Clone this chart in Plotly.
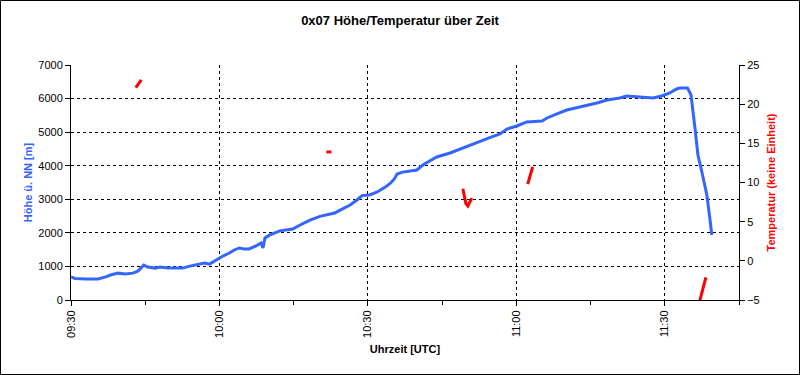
import plotly.graph_objects as go

# --- data ---
alt_time = ["09:30:00", "09:30:48", "09:33:00", "09:35:30", "09:37:00", "09:38:00", "09:39:30",
            "09:41:00", "09:42:30", "09:43:30", "09:44:42", "09:45:30", "09:47:00", "09:48:00",
            "09:49:36", "09:52:36", "09:54:00", "09:56:00", "09:57:00", "09:58:00", "09:59:00",
            "10:00:42", "10:02:00", "10:03:00", "10:04:00", "10:05:00", "10:06:00", "10:07:24",
            "10:08:24", "10:08:48", "10:09:12", "10:10:12", "10:12:12", "10:14:48", "10:16:18",
            "10:18:18", "10:20:18", "10:23:18", "10:24:18", "10:26:24", "10:27:48", "10:28:48",
            "10:30:18", "10:31:48", "10:33:36", "10:34:36", "10:35:18", "10:35:54", "10:37:00",
            "10:39:54", "10:41:06", "10:43:54", "10:46:36", "10:49:12", "10:52:00", "10:54:30",
            "10:56:42", "10:58:06", "11:00:06", "11:02:06", "11:05:12", "11:06:12", "11:08:12",
            "11:10:12", "11:12:48", "11:15:30", "11:16:18", "11:18:18", "11:20:54", "11:22:18",
            "11:24:18", "11:26:36", "11:27:36", "11:29:24", "11:31:00", "11:32:24", "11:33:00",
            "11:34:36", "11:35:18", "11:36:06", "11:36:42", "11:37:30", "11:38:30", "11:39:06",
            "11:39:30"]
alt_m = [685, 640, 625, 625, 690, 745, 800,
         775, 800, 860, 1040, 980, 950, 980,
         950, 950, 1010, 1070, 1100, 1070, 1160,
         1310, 1400, 1490, 1550, 1520, 1520, 1610,
         1700, 1550, 1850, 1940, 2060, 2115, 2234,
         2380, 2490, 2590, 2670, 2830, 2979, 3110,
         3130, 3210, 3370, 3485, 3600, 3753, 3810,
         3873, 4022, 4260, 4379, 4528, 4707, 4830,
         4945, 5094, 5183, 5303, 5332, 5422, 5541,
         5660, 5750, 5839, 5869, 5958, 6018, 6077,
         6047, 6018, 6018, 6077, 6166, 6286, 6315,
         6315, 6107, 5124, 4320, 3813, 3128, 2443,
         1936]

temp_time = ["09:43:06", "09:44:12", None,
             "10:21:36", "10:22:36", None,
             "10:49:12", "10:49:24", "10:49:48", "10:50:12", "10:50:36", "10:51:00", None,
             "11:02:18", "11:03:18", None,
             "11:37:00", "11:37:36", "11:38:18"]
temp_val = [22.1, 23.1, None,
            13.9, 13.9, None,
            9.2, 8.4, 7.3, 7.0, 7.5, 8.0, None,
            9.8, 12.0, None,
            -5.3, -3.8, -2.1]

DAY = "2000-01-01 "
def ts(lst):
    return [DAY + t if t is not None else None for t in lst]

BLUE = "#3366FF"
RED = "#FF0000"
FONT = "Liberation Sans, Arial, sans-serif"

fig = go.Figure()
fig.add_trace(go.Scatter(x=ts(alt_time), y=alt_m, mode="lines",
                         line=dict(color=BLUE, width=3), name="Höhe", yaxis="y"))
fig.add_trace(go.Scatter(x=ts(temp_time), y=temp_val, mode="lines",
                         line=dict(color=RED, width=3), name="Temperatur",
                         yaxis="y2", connectgaps=False))

axis_common = dict(showline=True, linecolor="black", linewidth=1, ticks="outside",
                   ticklen=5, tickcolor="black", tickfont=dict(size=11, color="black"),
                   zeroline=False)

fig.update_layout(
    width=800, height=375,
    margin=dict(l=71, r=61, t=65, b=75),
    paper_bgcolor="white", plot_bgcolor="white",
    font=dict(family=FONT, size=11, color="black"),
    showlegend=False,
    title=dict(text="<b>0x07 Höhe/Temperatur über Zeit</b>", x=0.5, xanchor="center",
               y=1 - 20 / 375, yanchor="middle", font=dict(size=13, color="black")),
    xaxis=dict(type="date", range=[DAY + "09:30", DAY + "11:45"],
               tick0=DAY + "09:30", dtick=30 * 60 * 1000, tickformat="%H:%M",
               tickangle=-90, showgrid=True, gridcolor="black", gridwidth=1,
               griddash="3px,3px",
               minor=dict(dtick=15 * 60 * 1000, ticks="outside", ticklen=4,
                          tickcolor="black", showgrid=False),
               title=dict(text="<b>Uhrzeit [UTC]</b>", font=dict(size=11), standoff=8),
               **axis_common),
    yaxis=dict(range=[0, 7000], dtick=1000, showgrid=True, gridcolor="black",
               gridwidth=1, griddash="3px,3px",
               title=dict(text="<b>Höhe ü. NN [m]</b>", font=dict(size=11, color=BLUE),
                          standoff=3),
               **axis_common),
    yaxis2=dict(range=[-5, 25], dtick=5, overlaying="y", side="right", showgrid=False,
                title=dict(text="<b>Temperatur (keine Einheit)</b>",
                           font=dict(size=11, color=RED), standoff=8),
                **axis_common),
    shapes=[dict(type="rect", xref="paper", yref="paper",
                 x0=(0.5 - 71) / 668, x1=(799.5 - 71) / 668,
                 y0=(300 - 374.5) / 235, y1=(300 - 0.5) / 235,
                 line=dict(color="black", width=1), fillcolor="rgba(0,0,0,0)",
                 layer="above")],
)

fig.write_html("out.html", config={"displayModeBar": False},
               post_script="document.body.style.margin='0';")
